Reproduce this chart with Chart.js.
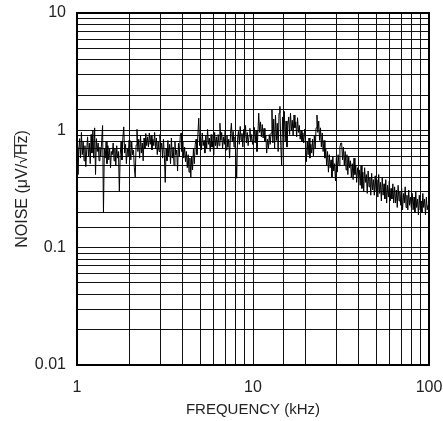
<!DOCTYPE html>
<html>
<head>
<meta charset="utf-8">
<script src="https://cdn.jsdelivr.net/npm/chart.js@4.4.0/dist/chart.umd.min.js"></script>
<style>
  html, body { margin: 0; padding: 0; background: #fff; }
  canvas { display: block; }
</style>
</head>
<body>
<canvas id="noise-chart" width="443" height="421"></canvas>
<script>
// Noise density (uV/rtHz), 1 kHz .. 100 kHz, 20 samples per 0.1 decade
const NOISE = [
  0.72, 0.42, 0.66, 0.85, 0.58, 0.96, 0.62, 0.80, 0.55, 0.74, 0.49, 0.68, 0.88, 0.60, 0.78, 0.52, 0.92, 0.64, 1.00, 0.58,
  1.05, 0.42, 0.85, 0.66, 0.78, 0.55, 0.72, 0.60, 0.82, 1.10, 0.20, 0.70, 0.58, 0.80, 0.52, 0.74, 0.56, 0.70, 0.48, 0.66,
  0.62, 0.78, 0.55, 0.70, 0.50, 0.74, 0.58, 0.66, 0.30, 0.62, 0.80, 0.56, 0.86, 1.07, 0.64, 0.76, 0.52, 0.70, 0.60, 0.82,
  0.72, 0.56, 0.80, 0.62, 0.68, 0.48, 0.40, 0.75, 1.02, 0.66, 0.84, 0.58, 0.90, 0.64, 0.78, 0.55, 0.86, 0.70, 0.94, 0.74,
  0.88, 0.72, 0.95, 0.76, 0.90, 0.68, 0.84, 0.74, 0.96, 0.70, 0.86, 0.62, 0.80, 0.66, 0.92, 0.70, 0.78, 0.58, 0.84, 0.62,
  0.36, 0.70, 0.55, 0.82, 0.60, 0.76, 0.52, 0.86, 0.58, 0.72, 0.50, 0.80, 0.62, 0.68, 0.45, 0.78, 0.60, 0.88, 0.95, 0.66,
  0.80, 0.58, 0.72, 0.54, 0.66, 0.48, 0.62, 0.44, 0.58, 0.40, 0.60, 0.46, 0.70, 0.52, 0.76, 0.84, 0.62, 0.92, 1.27, 0.74,
  0.88, 0.68, 0.95, 0.74, 0.82, 0.64, 0.90, 0.70, 1.02, 0.76, 0.86, 0.66, 0.92, 0.72, 0.80, 0.62, 0.96, 0.74, 0.88, 0.70,
  0.92, 0.74, 1.15, 0.82, 0.96, 0.70, 0.88, 0.76, 1.00, 0.68, 0.90, 0.72, 0.84, 0.58, 0.94, 1.15, 0.80, 0.98, 0.72, 0.88,
  0.66, 0.39, 0.84, 0.98, 0.76, 1.08, 0.82, 0.94, 0.72, 1.02, 0.86, 1.10, 0.78, 0.96, 0.74, 0.90, 1.04, 0.80, 0.92, 0.76,
  0.84, 1.06, 0.78, 1.00, 0.66, 0.92, 1.40, 0.96, 1.18, 0.88, 1.12, 0.86, 1.04, 0.80, 0.90, 0.64, 0.84, 0.70, 0.92, 0.76,
  0.95, 1.50, 0.78, 1.25, 0.70, 1.35, 0.82, 1.15, 0.66, 1.40, 1.60, 0.74, 0.50, 1.30, 0.88, 1.45, 0.80, 1.20, 0.72, 1.10,
  1.30, 0.92, 1.40, 1.00, 1.22, 0.90, 1.35, 1.05, 1.18, 0.88, 1.28, 0.96, 1.10, 0.84, 1.00, 0.80, 0.95, 0.78, 1.02, 0.82,
  0.54, 0.80, 0.62, 0.86, 0.58, 0.76, 0.64, 0.84, 0.60, 0.90, 0.70, 1.05, 1.35, 0.96, 1.20, 0.82, 1.05, 0.72, 0.95, 0.66,
  0.82, 0.58, 0.70, 0.50, 0.66, 0.44, 0.62, 0.48, 0.56, 0.40, 0.60, 0.45, 0.52, 0.37, 0.58, 0.44, 0.62, 0.50, 0.72, 0.78,
  0.78, 0.56, 0.72, 0.50, 0.66, 0.46, 0.62, 0.42, 0.60, 0.48, 0.55, 0.40, 0.52, 0.38, 0.58, 0.42, 0.50, 0.36, 0.48, 0.40,
  0.46, 0.34, 0.50, 0.32, 0.44, 0.30, 0.48, 0.36, 0.42, 0.29, 0.45, 0.33, 0.40, 0.28, 0.43, 0.31, 0.38, 0.28, 0.41, 0.30,
  0.38, 0.27, 0.42, 0.29, 0.36, 0.25, 0.40, 0.28, 0.35, 0.26, 0.38, 0.24, 0.34, 0.27, 0.37, 0.25, 0.32, 0.26, 0.35, 0.24,
  0.33, 0.24, 0.31, 0.22, 0.34, 0.25, 0.30, 0.23, 0.32, 0.21, 0.29, 0.24, 0.33, 0.22, 0.28, 0.21, 0.31, 0.23, 0.27, 0.22,
  0.29, 0.21, 0.27, 0.20, 0.30, 0.22, 0.26, 0.19, 0.28, 0.21, 0.25, 0.20, 0.29, 0.22, 0.26, 0.19, 0.27, 0.21, 0.23, 0.19,
];
// sample frequencies (kHz), evenly spaced on the log axis from 1 to 100
const FREQ = NOISE.map((_, i) => Math.pow(10, 2 * i / (NOISE.length - 1)));

const X_TICKS = ['1', '10', '100'];
const Y_TICKS = ['0.01', '0.1', '1', '10'];
const X_TITLE = 'FREQUENCY (kHz)';
const Y_TITLE = 'NOISE (μV/√Hz)';

const FONT = '"Liberation Sans", Arial, sans-serif';
const TITLE_PAD = 13;

function decadeLabel(value, labels, lowExp) {
  const e = Math.log10(value);
  if (Math.abs(e - Math.round(e)) > 1e-6) return '';
  return labels[Math.round(e) - lowExp] || '';
}

// thick frame + vinculum over "Hz"
const framePlugin = {
  id: 'frame',
  afterDraw(chart) {
    const { ctx, chartArea: a } = chart;
    ctx.save();
    ctx.strokeStyle = '#000';
    ctx.lineWidth = 2;
    ctx.strokeRect(a.left, a.top, a.right - a.left, a.bottom - a.top);

    ctx.font = '16px ' + FONT;
    const full = ctx.measureText(Y_TITLE).width;
    const pre = ctx.measureText(Y_TITLE.slice(0, Y_TITLE.indexOf('√'))).width;
    const root = ctx.measureText('√').width;
    const hz = ctx.measureText('Hz').width;
    const cx = chart.scales.y.left + TITLE_PAD + 9.6;
    const cy = (a.top + a.bottom) / 2;
    const yFrom = cy + full / 2 - pre - root * 0.7;
    const yTo = cy + full / 2 - pre - root - hz;
    ctx.lineWidth = 1;
    ctx.strokeStyle = '#222';
    ctx.beginPath();
    ctx.moveTo(cx - 8, yFrom);
    ctx.lineTo(cx - 8, yTo);
    ctx.stroke();
    ctx.restore();
  }
};

new Chart(document.getElementById('noise-chart'), {
  type: 'line',
  data: {
    datasets: [{
      data: FREQ.map((f, i) => ({ x: f, y: NOISE[i] })),
      borderColor: '#000',
      borderWidth: 1,
      pointRadius: 0,
      tension: 0,
      fill: false,
    }],
  },
  options: {
    responsive: false,
    animation: false,
    layout: { padding: { left: 0, right: 14, top: 13, bottom: 0 } },
    plugins: { legend: { display: false }, tooltip: { enabled: false } },
    scales: {
      x: {
        type: 'logarithmic',
        min: 1,
        max: 100,
        // invisible tick marks give the label gap without widening the side padding
        grid: { color: '#111', lineWidth: 1, drawTicks: true, tickLength: 13, tickColor: 'rgba(0,0,0,0)' },
        border: { color: '#000', width: 2 },
        ticks: {
          autoSkip: false,
          maxRotation: 0,
          padding: 0,
          color: '#222',
          font: { family: FONT, size: 16 },
          callback: v => decadeLabel(v, X_TICKS, 0),
        },
        title: {
          display: true,
          text: X_TITLE,
          color: '#222',
          font: { family: FONT, size: 15 },
          padding: { top: 2, bottom: 2 },
        },
        afterFit: s => { s.height = 56; },
      },
      y: {
        type: 'logarithmic',
        min: 0.01,
        max: 10,
        grid: { color: '#111', lineWidth: 1, drawTicks: true, tickLength: 11, tickColor: 'rgba(0,0,0,0)' },
        border: { color: '#000', width: 2 },
        ticks: {
          autoSkip: false,
          padding: 0,
          color: '#222',
          font: { family: FONT, size: 16 },
          callback: v => decadeLabel(v, Y_TICKS, -2),
        },
        title: {
          display: true,
          text: Y_TITLE,
          color: '#222',
          font: { family: FONT, size: 16 },
          padding: { top: TITLE_PAD, bottom: TITLE_PAD },
        },
        afterFit: s => { s.width = 77; },
      },
    },
  },
  plugins: [framePlugin],
});
</script>
</body>
</html>
